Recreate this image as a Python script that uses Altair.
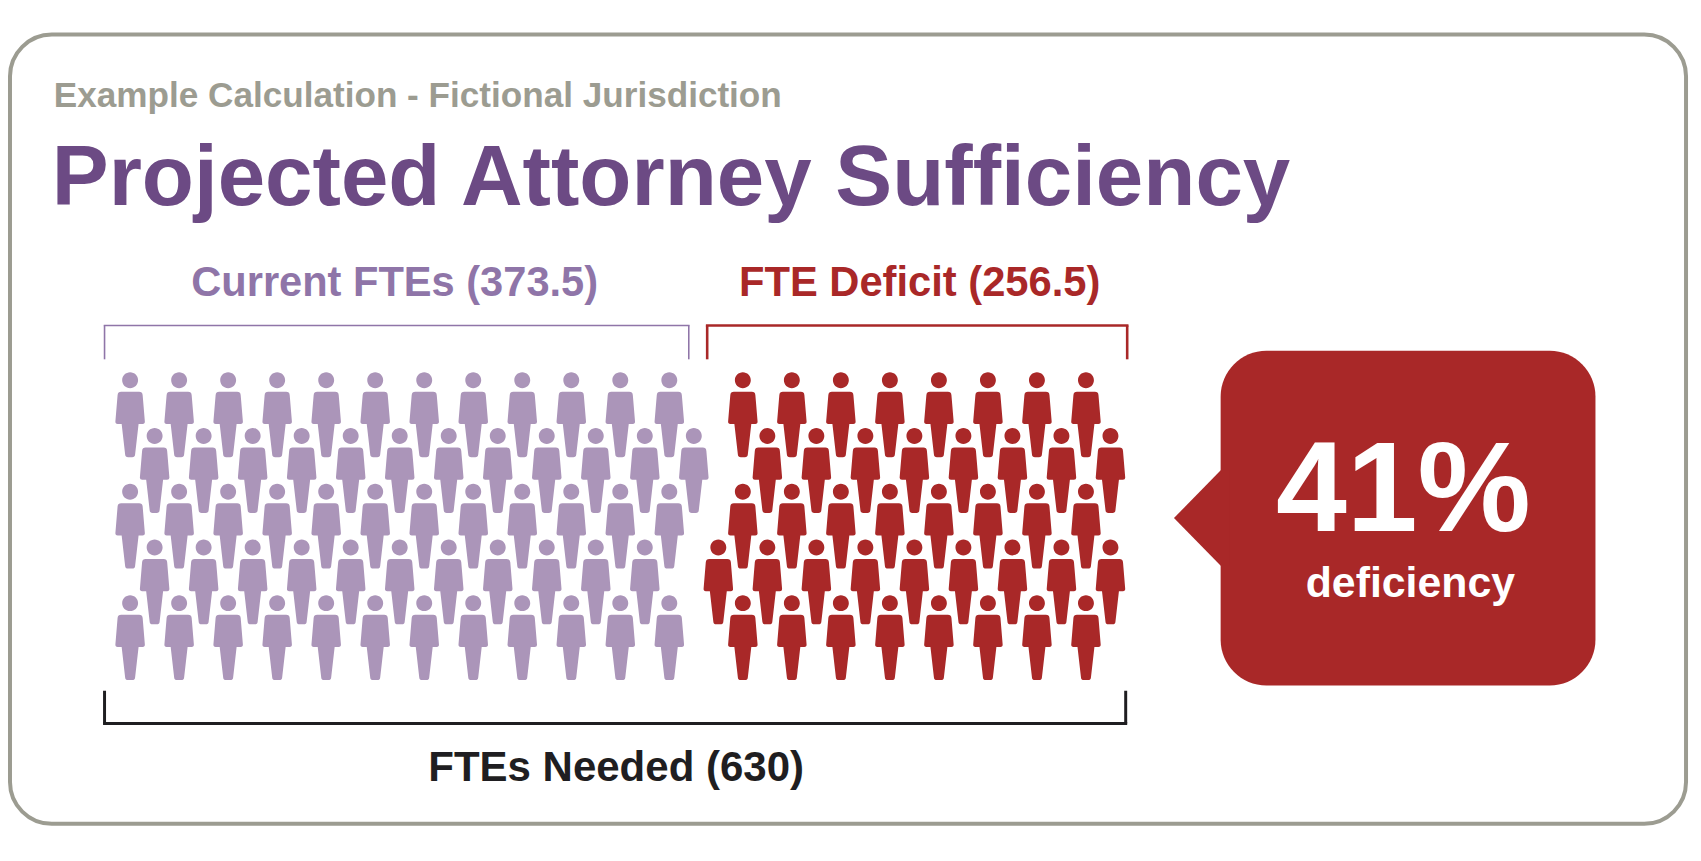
import altair as alt

# ---- values ----
subtitle = "Example Calculation - Fictional Jurisdiction"
title = "Projected Attorney Sufficiency"
label_current = "Current FTEs (373.5)"
label_deficit = "FTE Deficit (256.5)"
label_needed = "FTEs Needed (630)"
big_number = "41%"
big_word = "deficiency"

# figures per row (each figure = 1% of the FTEs needed); positions in half-column units
current_first = [0, 1, 0, 1, 0]
current_count = [12, 12, 12, 11, 12]
deficit_first = [25, 26, 25, 24, 25]
deficit_count = [8, 8, 8, 9, 8]

PURPLE_DARK = "#6c4a84"
PURPLE_MID = "#8f75a8"
PURPLE_LIGHT = "#ab95b9"
RED = "#a92828"
GREY = "#9c9c91"
INK = "#1f1e21"
FONT = "Liberation Sans"

PERSON = (
    "M-8,-34.6A8,8 0 1,1 8,-34.6A8,8 0 1,1 -8,-34.6Z"
    "M-9,-22.9L9,-22.9Q12.3,-22.9 12.6,-19.6L14.8,7Q15,9.4 12.5,9.4L8.5,9.4"
    "L5,40Q4.8,42.7 2,42.7L-2,42.7Q-4.8,42.7 -5,40L-8.5,9.4L-12.5,9.4"
    "Q-15,9.4 -14.8,7L-12.6,-19.6Q-12.3,-22.9 -9,-22.9Z"
)
POINTER = "M47,-48L0,0L47,48L56,48L56,-48Z"

OX, OY = 8, 8  # page margin


def X(v):
    return alt.value(v - OX)


def Y(v):
    return alt.value(v - OY)


def people(first, count, colour):
    rows = []
    for r, (f, c) in enumerate(zip(first, count)):
        for i in range(c):
            rows.append({"h": f + 2 * i, "row": r})
    return (
        alt.Chart(alt.Data(values=rows))
        .mark_point(shape=PERSON, size=4, filled=True, opacity=1, strokeWidth=0, color=colour)
        .encode(
            x=alt.X("h:Q", axis=None, scale=alt.Scale(domain=[0, 48], range=[122.7, 1304.7])),
            y=alt.Y("row:Q", axis=None, scale=alt.Scale(domain=[0, 4], range=[406.6, 630.6])),
        )
    )


def text(s, x, y, size, colour, align="left"):
    return alt.Chart().mark_text(
        text=s, font=FONT, fontWeight="bold", fontSize=size, color=colour,
        align=align, baseline="alphabetic",
    ).encode(x=X(x), y=Y(y))


def bracket(x0, x1, y_bar, y_end, colour, w):
    common = dict(color=colour, strokeWidth=w)
    bar = alt.Chart().mark_rule(**common).encode(x=X(x0 - w / 2), x2=X(x1 + w / 2), y=Y(y_bar))
    a = alt.Chart().mark_rule(**common).encode(x=X(x0), y=Y(y_bar), y2=Y(y_end))
    b = alt.Chart().mark_rule(**common).encode(x=X(x1), y=Y(y_bar), y2=Y(y_end))
    return [bar, a, b]


frame = alt.Chart().mark_rect(
    fillOpacity=0, stroke=GREY, strokeWidth=4, cornerRadius=42
).encode(x=X(10), x2=X(1694), y=Y(32.7), y2=Y(825.7))

box = alt.Chart().mark_rect(color=RED, cornerRadius=46).encode(
    x=X(1226.4), x2=X(1603), y=Y(350.5), y2=Y(686.7)
)
pointer = alt.Chart().mark_point(
    shape=POINTER, size=4, filled=True, opacity=1, strokeWidth=0, color=RED
).encode(x=X(1179.5), y=Y(518.5))

layers = [
    frame,
    text(subtitle, 54, 105, 35.3, GREY),
    text(title, 52, 204, 85.7, PURPLE_DARK),
    text(label_current, 396.5, 295, 41.8, PURPLE_MID, "center"),
    text(label_deficit, 924, 295, 41.9, RED, "center"),
    *bracket(105, 692, 325, 359, PURPLE_MID, 1.6),
    *bracket(710.5, 1132.5, 325, 359, RED, 2.6),
    *bracket(105, 1131, 725, 692, INK, 3),
    people(current_first, current_count, PURPLE_LIGHT),
    people(deficit_first, deficit_count, RED),
    box,
    pointer,
    text(big_number, 1410, 532, 128, "white", "center"),
    text(big_word, 1417, 598, 43, "white", "center"),
    text(label_needed, 619, 783, 42.2, INK, "center"),
]

chart = (
    alt.layer(*layers)
    .resolve_scale(x="independent", y="independent")
    .properties(
        width=1693, height=835, padding=0,
        background="white",
        autosize=alt.AutoSizeParams(type="none"),
    )
    .configure_view(stroke=None)
)

chart.save("out.html", embed_options={"renderer": "svg", "actions": False})
